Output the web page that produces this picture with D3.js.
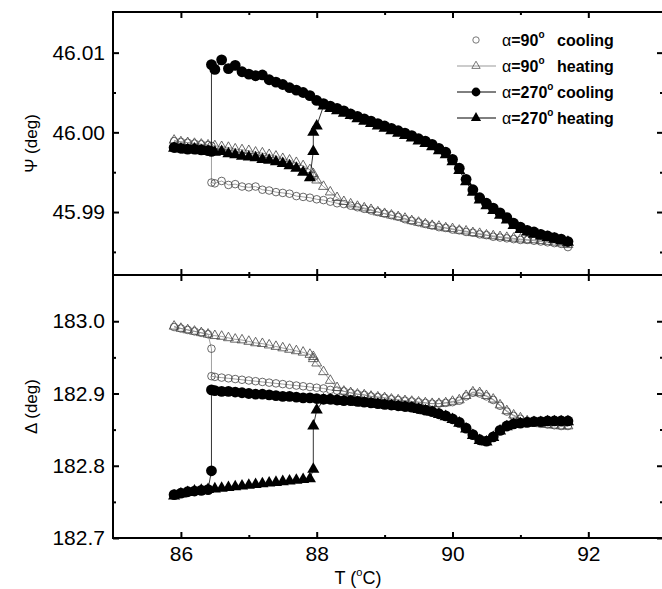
<!DOCTYPE html>
<html>
<head>
<meta charset="utf-8">
<script src="https://cdn.jsdelivr.net/npm/d3@7"></script>
<style>
body { margin: 0; background: #fff; }
svg { display: block; }
text { font-family: "Liberation Sans", Arial, sans-serif; }
</style>
</head>
<body>
<script>
const width = 662;
const height = 589;
const left = 113, right = 663, top1 = 12, mid = 275, bottom = 538;

// temperature grids (cooling runs are stored in ascending order, the jump at 86.45 appears twice)
const tempCooling = [85.9, 86.0, 86.1, 86.2, 86.3, 86.4, 86.45, 86.45,
	86.5, 86.6, 86.7, 86.8, 86.9,
	87.0, 87.1, 87.2, 87.3, 87.4, 87.5, 87.6, 87.7, 87.8, 87.9,
	88.0, 88.1, 88.2, 88.3, 88.4, 88.5, 88.6, 88.7, 88.8, 88.9,
	89.0, 89.1, 89.2, 89.3, 89.4, 89.5, 89.6, 89.7, 89.8, 89.9,
	90.0, 90.1, 90.2, 90.3, 90.4, 90.5, 90.6, 90.7, 90.8, 90.9,
	91.0, 91.1, 91.2, 91.3, 91.4, 91.5, 91.6, 91.7];
const tempHeating = [85.9, 86.0, 86.1, 86.2, 86.3, 86.4, 86.5, 86.6, 86.7, 86.8, 86.9,
	87.0, 87.1, 87.2, 87.3, 87.4, 87.5, 87.6, 87.7, 87.8, 87.9,
	87.95, 87.95,
	88.0, 88.1, 88.2, 88.3, 88.4, 88.5, 88.6, 88.7, 88.8, 88.9,
	89.0, 89.1, 89.2, 89.3, 89.4, 89.5, 89.6, 89.7, 89.8, 89.9,
	90.0, 90.1, 90.2, 90.3, 90.4, 90.5, 90.6, 90.7, 90.8, 90.9,
	91.0, 91.1, 91.2, 91.3, 91.4, 91.5, 91.6, 91.7];

// Psi (deg)
const psiCool90 = [45.9989, 45.9988, 45.9987, 45.9986, 45.9985, 45.9984, 45.9983, 45.9937,
	45.9936, 45.9939, 45.9934, 45.9935, 45.9932,
	45.9931, 45.9932, 45.9928, 45.9927, 45.9925, 45.9924, 45.9923, 45.9920, 45.9919, 45.9918,
	45.9916, 45.9915, 45.9913, 45.9911, 45.9910, 45.9908, 45.9906, 45.9904, 45.9902, 45.9900,
	45.9898, 45.9896, 45.9894, 45.9891, 45.9889, 45.9887, 45.9885, 45.9883, 45.9881, 45.9880,
	45.9878, 45.9877, 45.9875, 45.9874, 45.9872, 45.9871, 45.9869, 45.9868, 45.9867, 45.9866,
	45.9865, 45.9865, 45.9864, 45.9863, 45.9862, 45.9861, 45.9860, 45.9856];
const psiHeat90 = [45.9990, 45.9988, 45.9987, 45.9986, 45.9985, 45.9984, 45.9983, 45.9982, 45.9981, 45.9979, 45.9978,
	45.9977, 45.9975, 45.9974, 45.9972, 45.9970, 45.9967, 45.9965, 45.9962, 45.9958, 45.9953,
	45.9948, 45.9945,
	45.9940, 45.9932, 45.9925, 45.9918, 45.9913, 45.9910, 45.9907, 45.9905, 45.9903, 45.9900,
	45.9898, 45.9896, 45.9894, 45.9892, 45.9889, 45.9887, 45.9885, 45.9883, 45.9882, 45.9880,
	45.9879, 45.9877, 45.9876, 45.9874, 45.9873, 45.9871, 45.9870, 45.9869, 45.9868, 45.9867,
	45.9866, 45.9865, 45.9865, 45.9864, 45.9863, 45.9862, 45.9861, 45.9859];
const psiCool270 = [45.9981, 45.9980, 45.9979, 45.9979, 45.9978, 45.9977, 45.9976, 46.0085,
	46.0079, 46.0091, 46.0080, 46.0084, 46.0076,
	46.0073, 46.0071, 46.0072, 46.0066, 46.0063, 46.0060, 46.0056, 46.0053, 46.0050, 46.0046,
	46.0040, 46.0036, 46.0033, 46.0030, 46.0027, 46.0023, 46.0020, 46.0017, 46.0014, 46.0011,
	46.0008, 46.0005, 46.0002, 45.9999, 45.9996, 45.9992, 45.9989, 45.9985, 45.9980, 45.9975,
	45.9966, 45.9955, 45.9941, 45.9928, 45.9918, 45.9911, 45.9905, 45.9899, 45.9893, 45.9886,
	45.9881, 45.9877, 45.9875, 45.9872, 45.9870, 45.9868, 45.9866, 45.9863];
const psiHeat270 = [45.9980, 45.9979, 45.9978, 45.9979, 45.9977, 45.9976, 45.9975, 45.9976, 45.9973, 45.9972, 45.9970,
	45.9969, 45.9968, 45.9966, 45.9965, 45.9963, 45.9961, 45.9958, 45.9955, 45.9950, 45.9943,
	45.9976, 46.0000,
	46.0008, 46.0033, 46.0030, 46.0027, 46.0024, 46.0021, 46.0017, 46.0014, 46.0011, 46.0008,
	46.0005, 46.0002, 45.9999, 45.9996, 45.9993, 45.9989, 45.9986, 45.9982, 45.9977, 45.9972,
	45.9963, 45.9952, 45.9938, 45.9925, 45.9915, 45.9908, 45.9902, 45.9896, 45.9890, 45.9883,
	45.9878, 45.9875, 45.9872, 45.9870, 45.9868, 45.9866, 45.9864, 45.9862];

// Delta (deg)
const delCool90 = [182.992, 182.990, 182.988, 182.986, 182.984, 182.982, 182.962, 182.924,
	182.923, 182.922, 182.921, 182.920, 182.919,
	182.918, 182.917, 182.916, 182.915, 182.914, 182.913, 182.912, 182.911, 182.910, 182.909,
	182.908, 182.907, 182.905, 182.904, 182.903, 182.901, 182.899, 182.898, 182.896, 182.895,
	182.894, 182.892, 182.891, 182.890, 182.889, 182.888, 182.887, 182.886, 182.886, 182.887,
	182.888, 182.890, 182.896, 182.901, 182.900, 182.896, 182.891, 182.883, 182.875, 182.869,
	182.865, 182.862, 182.860, 182.858, 182.857, 182.856, 182.855, 182.855];
const delHeat90 = [182.993, 182.990, 182.988, 182.986, 182.984, 182.982, 182.980, 182.979, 182.977, 182.975, 182.974,
	182.972, 182.970, 182.969, 182.967, 182.965, 182.963, 182.961, 182.959, 182.957, 182.954,
	182.951, 182.948,
	182.942, 182.930, 182.918, 182.908, 182.903, 182.901, 182.899, 182.898, 182.896, 182.895,
	182.894, 182.892, 182.891, 182.890, 182.889, 182.888, 182.887, 182.886, 182.886, 182.887,
	182.889, 182.891, 182.897, 182.902, 182.901, 182.897, 182.892, 182.884, 182.876, 182.870,
	182.866, 182.862, 182.860, 182.858, 182.857, 182.856, 182.855, 182.855];
const delCool270 = [182.760, 182.762, 182.764, 182.765, 182.766, 182.767, 182.793, 182.905,
	182.904, 182.903, 182.903, 182.902, 182.901,
	182.900, 182.899, 182.899, 182.898, 182.897, 182.896, 182.896, 182.895, 182.894, 182.894,
	182.893, 182.892, 182.892, 182.891, 182.890, 182.890, 182.889, 182.888, 182.887, 182.886,
	182.885, 182.884, 182.883, 182.882, 182.881, 182.879, 182.877, 182.875, 182.872, 182.869,
	182.865, 182.860, 182.852, 182.843, 182.836, 182.834, 182.840, 182.849, 182.855, 182.858,
	182.859, 182.860, 182.861, 182.861, 182.862, 182.862, 182.862, 182.862];
const delHeat270 = [182.758, 182.761, 182.763, 182.765, 182.766, 182.767, 182.768, 182.769, 182.770, 182.771, 182.772,
	182.773, 182.774, 182.775, 182.776, 182.777, 182.778, 182.779, 182.780, 182.781, 182.782,
	182.795, 182.855,
	182.877, 182.891, 182.891, 182.890, 182.889, 182.889, 182.888, 182.887, 182.886, 182.885,
	182.884, 182.883, 182.882, 182.881, 182.880, 182.878, 182.876, 182.874, 182.871, 182.868,
	182.864, 182.859, 182.851, 182.842, 182.835, 182.833, 182.839, 182.848, 182.854, 182.857,
	182.858, 182.859, 182.860, 182.860, 182.861, 182.861, 182.861, 182.861];

const xMajor = [86, 88, 90, 92];
const xMinor = [87, 89, 91];
const psiMajor = [45.99, 46.00, 46.01];
const psiMinor = [45.985, 45.995, 46.005];
const delMajor = [182.7, 182.8, 182.9, 183.0];
const delMinor = [182.75, 182.85, 182.95];

const legendLabels = [["90", "cooling"], ["90", "heating"], ["270", "cooling"], ["270", "heating"]];


const svg = d3.select("body")
	.append("svg")
	.attr("width", width)
	.attr("height", height);

const x = d3.scaleLinear().domain([85, 93.1]).range([left, right]);
const yPsi = d3.scaleLinear().domain([45.9821, 46.0151]).range([mid, top1]);
const yDel = d3.scaleLinear().domain([182.7, 183.064]).range([bottom, mid]);

// ticks point into the plot
function addTicks(axisGen, scale, major, minor, fmt, tx, ty) {
	const g = svg.append("g")
		.attr("transform", `translate(${tx},${ty})`)
		.call(axisGen(scale).tickValues(major).tickSize(-6).tickPadding(8).tickFormat(fmt));
	g.select(".domain").remove();
	g.selectAll("line").attr("stroke-width", 2);
	g.selectAll("text").attr("font-size", 21).attr("font-family", "Liberation Sans, Arial, sans-serif").attr("fill", "#000");
	const m = svg.append("g")
		.attr("transform", `translate(${tx},${ty})`)
		.call(axisGen(scale).tickValues(minor).tickSize(-3).tickFormat(""));
	m.select(".domain").remove();
	m.selectAll("line").attr("stroke-width", 2);
}

const none = () => "";
addTicks(d3.axisBottom, x, xMajor, xMinor, d3.format("d"), 0, bottom);
addTicks(d3.axisTop, x, xMajor, xMinor, none, 0, mid);
addTicks(d3.axisBottom, x, xMajor, xMinor, none, 0, mid);
addTicks(d3.axisTop, x, xMajor, xMinor, none, 0, top1);
addTicks(d3.axisLeft, yPsi, psiMajor, psiMinor, d3.format(".2f"), left, 0);
addTicks(d3.axisRight, yPsi, psiMajor, psiMinor, none, right, 0);
addTicks(d3.axisLeft, yDel, delMajor, delMinor, d3.format(".1f"), left, 0);
addTicks(d3.axisRight, yDel, delMajor, delMinor, none, right, 0);

svg.append("rect").attr("x", left).attr("y", top1).attr("width", right - left).attr("height", mid - top1)
	.attr("fill", "none").attr("stroke", "#000").attr("stroke-width", 2);
svg.append("rect").attr("x", left).attr("y", mid).attr("width", right - left).attr("height", bottom - mid)
	.attr("fill", "none").attr("stroke", "#000").attr("stroke-width", 2);

const styles = {
	cool90: { shape: "circle", r: 3.8, fill: "none", stroke: "#444", line: "#888" },
	heat90: { shape: "triangle", size: 42, fill: "none", stroke: "#444", line: "#888" },
	cool270: { shape: "circle", r: 5.4, fill: "#000", stroke: "none", line: "#000" },
	heat270: { shape: "triangle", size: 64, fill: "#000", stroke: "none", line: "#000" }
};

function drawSeries(yScale, temps, vals, st) {
	const pts = temps.map((t, i) => [t, vals[i]]);
	const line = d3.line().x(d => x(d[0])).y(d => yScale(d[1]));
	svg.append("path").datum(pts)
		.attr("d", line)
		.attr("fill", "none")
		.attr("stroke", st.line)
		.attr("stroke-width", 0.8);
	const g = svg.append("g");
	if (st.shape === "circle") {
		g.selectAll("circle").data(pts).enter().append("circle")
			.attr("cx", d => x(d[0]))
			.attr("cy", d => yScale(d[1]))
			.attr("r", st.r)
			.attr("fill", st.fill)
			.attr("stroke", st.stroke)
			.attr("stroke-width", 0.8);
	} else {
		g.selectAll("path").data(pts).enter().append("path")
			.attr("d", d3.symbol(d3.symbolTriangle, st.size))
			.attr("transform", d => `translate(${x(d[0])},${yScale(d[1])})`)
			.attr("fill", st.fill)
			.attr("stroke", st.stroke)
			.attr("stroke-width", 0.8);
	}
}

drawSeries(yPsi, tempCooling, psiCool90, styles.cool90);
drawSeries(yPsi, tempHeating, psiHeat90, styles.heat90);
drawSeries(yPsi, tempCooling, psiCool270, styles.cool270);
drawSeries(yPsi, tempHeating, psiHeat270, styles.heat270);

drawSeries(yDel, tempCooling, delCool90, styles.cool90);
drawSeries(yDel, tempHeating, delHeat90, styles.heat90);
drawSeries(yDel, tempCooling, delCool270, styles.cool270);
drawSeries(yDel, tempHeating, delHeat270, styles.heat270);

// legend
const legendStyles = [
	{ shape: "circle", r: 3.2, fill: "none", stroke: "#555", line: "#999" },
	{ shape: "triangle", size: 30, fill: "none", stroke: "#555", line: "#999" },
	{ shape: "circle", r: 4.4, fill: "#000", stroke: "none", line: "#000" },
	{ shape: "triangle", size: 45, fill: "#000", stroke: "none", line: "#000" }
];
const legendY = [40, 66, 92, 118];
legendLabels.forEach((lab, i) => {
	const st = legendStyles[i];
	const cy = legendY[i];
	if (i > 0) {
		svg.append("line").attr("x1", 457).attr("x2", 496).attr("y1", cy).attr("y2", cy)
			.attr("stroke", st.line).attr("stroke-width", 1);
	}
	if (st.shape === "circle") {
		svg.append("circle").attr("cx", 476).attr("cy", cy).attr("r", st.r)
			.attr("fill", st.fill).attr("stroke", st.stroke).attr("stroke-width", 0.8);
	} else {
		svg.append("path").attr("d", d3.symbol(d3.symbolTriangle, st.size))
			.attr("transform", `translate(476,${cy})`)
			.attr("fill", st.fill).attr("stroke", st.stroke).attr("stroke-width", 0.8);
	}
	const t = svg.append("text").attr("x", 502).attr("y", cy + 6)
		.attr("font-size", 16).attr("font-weight", "bold");
	t.append("tspan").attr("font-weight", "normal").text("α");
	t.append("tspan").text("=" + lab[0]);
	t.append("tspan").attr("font-size", 10).attr("dy", -8).text("o");
	t.append("tspan").attr("x", 557).attr("dy", 8).text(lab[1]);
});

// axis titles
svg.append("text")
	.attr("transform", `translate(37,${(top1 + mid) / 2}) rotate(-90)`)
	.attr("text-anchor", "middle")
	.attr("font-size", 17)
	.text("Ψ (deg)");
svg.append("text")
	.attr("transform", `translate(37,${(mid + bottom) / 2}) rotate(-90)`)
	.attr("text-anchor", "middle")
	.attr("font-size", 17)
	.text("Δ (deg)");

const xt = svg.append("text")
	.attr("x", 358)
	.attr("y", 584)
	.attr("text-anchor", "middle")
	.attr("font-size", 18);
xt.append("tspan").text("T (");
xt.append("tspan").attr("font-size", 11).attr("dy", -8).text("o");
xt.append("tspan").attr("dy", 8).text("C)");
</script>
</body>
</html>
